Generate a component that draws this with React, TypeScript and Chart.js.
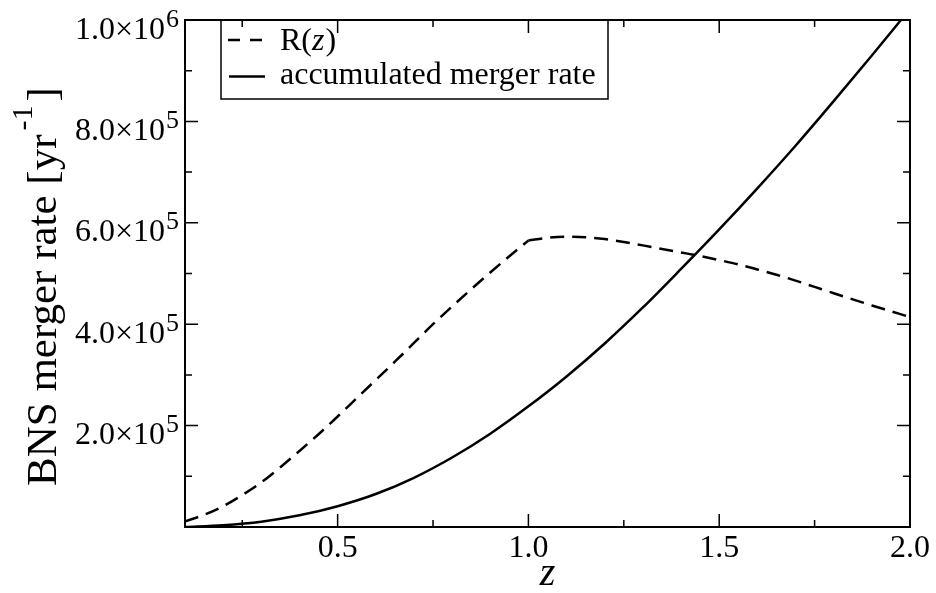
import React, { useEffect, useRef } from "react";
import { Chart, registerables } from "chart.js";

Chart.register(...registerables);

// ---- data ----
const zR = [
  0.1, 0.15, 0.2, 0.25, 0.3, 0.35, 0.4, 0.45, 0.5, 0.55, 0.6, 0.65, 0.7, 0.75,
  0.8, 0.85, 0.9, 0.95, 1.0, 1.05, 1.1, 1.15, 1.2, 1.25, 1.3, 1.35, 1.4, 1.45,
  1.5, 1.55, 1.6, 1.65, 1.7, 1.75, 1.8, 1.85, 1.9, 1.95, 2.0,
];
const rateR = [
  11000, 24000, 41000, 63000, 88000, 118000, 150000, 183000, 218000, 254000,
  290000, 326000, 363000, 400000, 435000, 469000, 502000, 534000, 565000,
  570500, 572500, 571500, 568000, 562000, 555500, 548500, 541500, 534500,
  526500, 518000, 508000, 497500, 486000, 473500, 461000, 449000, 437000,
  425500, 414000,
];
const zBreak = 1.0; // R(z) has a kink at z = 1
const zAcc = [
  0.1, 0.2, 0.3, 0.4, 0.5, 0.6, 0.7, 0.8, 0.9, 1.0, 1.1, 1.2, 1.3, 1.4, 1.5,
  1.6, 1.7, 1.8, 1.9, 2.0,
];
const rateAcc = [
  0, 3500, 10500, 23000, 41000, 65000, 97000, 137000, 184000, 238000, 297000,
  362000, 433000, 509000, 587000, 668000, 752000, 840000, 930000, 1022000,
];

const xMajorTicks = [0.5, 1.0, 1.5, 2.0];
const xTickLabels = ["0.5", "1.0", "1.5", "2.0"];
const xMinorTicks = [0.25, 0.75, 1.25, 1.75];
const yMajorTicks = [200000, 400000, 600000, 800000, 1000000];
const yTickMantissas = ["2.0×10", "4.0×10", "6.0×10", "8.0×10", "1.0×10"];
const yTickExponents = ["5", "5", "5", "5", "6"];
const yMinorTicks = [100000, 300000, 500000, 700000, 900000];

const seriesNames = ["R(z)", "accumulated merger rate"];
const yTitleMain = "BNS merger rate [yr";
const yTitleSup = "-1";
const yTitleEnd = "]";
const xTitle = "z";

const SERIF = "'Liberation Serif', 'DejaVu Serif', serif";

const decorPlugin = {
  id: "decor",
  afterDraw(chart: any) {
    const { ctx, chartArea: a, scales } = chart;
    const xs = scales.x;
    const ys = scales.y;
    ctx.save();
    ctx.strokeStyle = "#000";
    ctx.fillStyle = "#000";

    // frame
    ctx.lineWidth = 2;
    ctx.strokeRect(a.left, a.top, a.right - a.left, a.bottom - a.top);

    // ticks (inward, all four sides)
    ctx.lineWidth = 1.5;
    const MAJ = 13;
    const MIN = 7;
    ctx.beginPath();
    const xTick = (v: number, len: number) => {
      const px = xs.getPixelForValue(v);
      ctx.moveTo(px, a.bottom);
      ctx.lineTo(px, a.bottom - len);
      ctx.moveTo(px, a.top);
      ctx.lineTo(px, a.top + len);
    };
    const yTick = (v: number, len: number) => {
      const py = ys.getPixelForValue(v);
      ctx.moveTo(a.left, py);
      ctx.lineTo(a.left + len, py);
      ctx.moveTo(a.right, py);
      ctx.lineTo(a.right - len, py);
    };
    xMajorTicks.forEach((v) => xTick(v, MAJ));
    xMinorTicks.forEach((v) => xTick(v, MIN));
    yMajorTicks.forEach((v) => yTick(v, MAJ));
    yMinorTicks.forEach((v) => yTick(v, MIN));
    ctx.stroke();

    // x tick labels
    ctx.font = `32px ${SERIF}`;
    ctx.textAlign = "center";
    ctx.textBaseline = "alphabetic";
    xMajorTicks.forEach((v, i) => {
      ctx.fillText(xTickLabels[i], xs.getPixelForValue(v), a.bottom + 30);
    });

    // y tick labels (mantissa x 10^exp)
    ctx.textAlign = "left";
    yMajorTicks.forEach((v, i) => {
      const py = ys.getPixelForValue(v);
      ctx.font = `26px ${SERIF}`;
      const we = ctx.measureText(yTickExponents[i]).width;
      ctx.font = `32px ${SERIF}`;
      const wm = ctx.measureText(yTickMantissas[i]).width;
      const right = a.left - 6;
      const x0 = right - we - wm - 1;
      const base = py + 18.5;
      ctx.fillText(yTickMantissas[i], x0, base);
      ctx.font = `26px ${SERIF}`;
      ctx.fillText(yTickExponents[i], x0 + wm + 1, base - 12);
    });

    // y title
    ctx.save();
    ctx.translate(56, 486);
    ctx.rotate(-Math.PI / 2);
    ctx.textAlign = "left";
    ctx.font = `43px ${SERIF}`;
    ctx.fillText(yTitleMain, 0, 0);
    const w1 = ctx.measureText(yTitleMain).width;
    ctx.font = `30px ${SERIF}`;
    ctx.fillText(yTitleSup, w1 + 4, -24);
    const w2 = ctx.measureText(yTitleSup).width;
    ctx.font = `43px ${SERIF}`;
    ctx.fillText(yTitleEnd, w1 + w2 + 8, 0);
    ctx.restore();

    // x title
    ctx.font = `italic 40px ${SERIF}`;
    ctx.textAlign = "center";
    ctx.fillText(xTitle, (a.left + a.right) / 2, 585);

    // legend
    ctx.lineWidth = 1.5;
    ctx.strokeRect(221, a.top, 387, 79);
    ctx.lineWidth = 2.5;
    ctx.setLineDash([12, 10]);
    ctx.beginPath();
    ctx.moveTo(228, 40);
    ctx.lineTo(264, 40);
    ctx.stroke();
    ctx.setLineDash([]);
    ctx.beginPath();
    ctx.moveTo(229, 76.5);
    ctx.lineTo(265, 76.5);
    ctx.stroke();

    ctx.textAlign = "left";
    ctx.font = `32px ${SERIF}`;
    let tx = 280;
    ctx.fillText("R(", tx, 49.5);
    tx += ctx.measureText("R(").width;
    ctx.font = `italic 32px ${SERIF}`;
    ctx.fillText("z", tx, 49.5);
    tx += ctx.measureText("z").width + 1;
    ctx.font = `32px ${SERIF}`;
    ctx.fillText(")", tx, 49.5);
    ctx.fillText(seriesNames[1], 280, 83.5);

    ctx.restore();
  },
};

export default function App() {
  const ref = useRef<HTMLCanvasElement | null>(null);
  useEffect(() => {
    if (!ref.current) return;
    const rPts = zR.map((z, i) => ({ x: z, y: rateR[i] }));
    const dashedStyle = {
      borderColor: "#000",
      borderWidth: 2.5,
      borderDash: [14, 8],
      pointRadius: 0,
      cubicInterpolationMode: "monotone" as const,
      fill: false,
    };
    const chart = new Chart(ref.current, {
      type: "line",
      data: {
        datasets: [
          {
            label: seriesNames[0],
            data: rPts.filter((p) => p.x <= zBreak),
            ...dashedStyle,
          },
          {
            label: seriesNames[0] + " (z>1)",
            data: rPts.filter((p) => p.x >= zBreak),
            ...dashedStyle,
          },
          {
            label: seriesNames[1],
            data: zAcc.map((z, i) => ({ x: z, y: rateAcc[i] })),
            borderColor: "#000",
            borderWidth: 2.5,
            pointRadius: 0,
            cubicInterpolationMode: "monotone",
            fill: false,
          },
        ],
      },
      options: {
        animation: false,
        responsive: false,
        devicePixelRatio: 1,
        layout: { padding: { left: 185, top: 20, right: 26, bottom: 66 } },
        plugins: { legend: { display: false }, tooltip: { enabled: false } },
        scales: {
          x: { type: "linear", min: 0.1, max: 2.0, display: false },
          y: { type: "linear", min: 0, max: 1000000, display: false },
        },
      },
      plugins: [decorPlugin],
    });
    return () => chart.destroy();
  }, []);
  return (
    <div style={{ position: "fixed", left: 0, top: 0, width: 936, height: 593, background: "#fff" }}>
      <canvas ref={ref} width={936} height={593} style={{ display: "block" }} />
    </div>
  );
}
